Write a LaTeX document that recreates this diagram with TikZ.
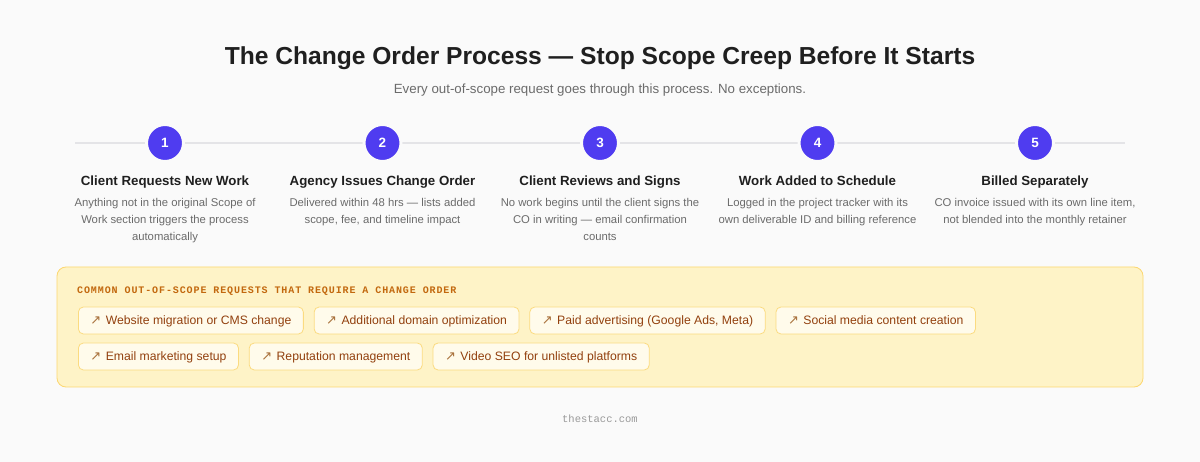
\documentclass[tikz,border=0pt]{standalone}
\usepackage{fontspec}
\setmainfont{Liberation Sans}
\newfontfamily\monofont{Liberation Mono}
\newfontfamily\capsmono[LetterSpace=9]{Liberation Mono}
\newfontfamily\arrowfont{DejaVu Sans}
\usetikzlibrary{positioning}

\definecolor{pagebg}{HTML}{FAFAFA}
\definecolor{titleink}{HTML}{1F1F1F}
\definecolor{subink}{HTML}{6B6B6B}
\definecolor{railgray}{HTML}{E4E4E7}
\definecolor{dotviolet}{HTML}{4F3CF0}
\definecolor{boxfill}{HTML}{FEF3C7}
\definecolor{boxline}{HTML}{FCD770}
\definecolor{headink}{HTML}{C2680E}
\definecolor{chipfill}{HTML}{FFFBEB}
\definecolor{chipline}{HTML}{FBDB80}
\definecolor{chipink}{HTML}{92400E}
\definecolor{chiparrow}{HTML}{A8703A}
\definecolor{footink}{HTML}{9A9A9A}

\newcommand\chiptext[1]{{\color{chiparrow}\arrowfont\fontsize{13}{13}\selectfont ↗}\hspace{4.5pt}#1}

\tikzset{
	stepdot/.style={circle, fill=dotviolet, draw=pagebg, line width=3pt, minimum size=37pt, inner sep=0pt,
		text=white, font=\bfseries\fontsize{13.5}{13.5}\selectfont},
	steptitle/.style={text=titleink, font=\bfseries\fontsize{13.3}{13.3}\selectfont, text height=9.5pt, text depth=2.5pt},
	stepdesc/.style={anchor=north, align=center, text=subink, font=\fontsize{11.3}{17}\selectfont},
	chip/.style={draw=chipline, fill=chipfill, rounded corners=5pt, line width=0.8pt, minimum height=27pt,
		inner xsep=12pt, inner ysep=0pt, text=chipink, font=\fontsize{12.2}{12.2}\selectfont,
		text height=10pt, text depth=2pt},
	timeline/.style={draw=railgray, line width=1.5pt}
}

\begin{document}
\begin{tikzpicture}[x=1pt,y=-1pt]
	%set diagram size to 1200 x 462
	\useasboundingbox[fill=pagebg] (0,0) rectangle (1200,462);

	% Text Node
	\node[text=titleink, font=\bfseries\fontsize{24.6}{24.6}\selectfont] (title) at (600,58) {The Change Order Process — Stop Scope Creep Before It Starts};
	% Text Node
	\node[text=subink, font=\fontsize{13.3}{13.3}\selectfont] (subtitle) at (600,90) {Every out-of-scope request goes through this process. No exceptions.};

	%Straight Lines
	\coordinate (railL) at (75,143);
	\coordinate (railR) at (1125,143);
	\draw[timeline] (railL) -- (railR);

	% Step circles
	\node[stepdot] (dot1) at (165,143) {1};
	\node[stepdot] (dot2) at (382.5,143) {2};
	\node[stepdot] (dot3) at (600,143) {3};
	\node[stepdot] (dot4) at (817.5,143) {4};
	\node[stepdot] (dot5) at (1035,143) {5};

	% Step titles
	\node[steptitle] (title1) at (165,182) {Client Requests New Work};
	\node[steptitle] (title2) at (382.5,182) {Agency Issues Change Order};
	\node[steptitle] (title3) at (600,182) {Client Reviews and Signs};
	\node[steptitle] (title4) at (817.5,182) {Work Added to Schedule};
	\node[steptitle] (title5) at (1035,182) {Billed Separately};

	% Step descriptions
	\node[stepdesc] (desc1) at (165,195) {Anything not in the original Scope of\\Work section triggers the process\\automatically};
	\node[stepdesc] (desc2) at (382.5,195) {Delivered within 48 hrs — lists added\\scope, fee, and timeline impact};
	\node[stepdesc] (desc3) at (600,195) {No work begins until the client signs the\\CO in writing — email confirmation\\counts};
	\node[stepdesc] (desc4) at (817.5,195) {Logged in the project tracker with its\\own deliverable ID and billing reference};
	\node[stepdesc] (desc5) at (1035,195) {CO invoice issued with its own line item,\\not blended into the monthly retainer};

	%Rounded Rect
	\draw[draw=boxline, fill=boxfill, line width=0.8pt, rounded corners=9pt] (57,267) rectangle (1143,387);

	% Text Node
	\node[anchor=west, inner sep=0pt, text=headink, font=\capsmono\bfseries\fontsize{10}{10}\selectfont] (boxhead) at (77,291) {COMMON OUT-OF-SCOPE REQUESTS THAT REQUIRE A CHANGE ORDER};

	% Chips, first row
	\node[chip, anchor=west] (chip1) at (78,320.5) {\chiptext{Website migration or CMS change}};
	\node[chip, right=10pt of chip1] (chip2) {\chiptext{Additional domain optimization}};
	\node[chip, right=10pt of chip2] (chip3) {\chiptext{Paid advertising (Google Ads, Meta)}};
	\node[chip, right=10pt of chip3] (chip4) {\chiptext{Social media content creation}};
	% Chips, second row
	\node[chip, anchor=west] (chip5) at (78,356.5) {\chiptext{Email marketing setup}};
	\node[chip, right=10pt of chip5] (chip6) {\chiptext{Reputation management}};
	\node[chip, right=10pt of chip6] (chip7) {\chiptext{Video SEO for unlisted platforms}};

	% Text Node
	\node[text=footink, font=\monofont\fontsize{10.5}{10.5}\selectfont] (footer) at (600,419) {thestacc.com};

\end{tikzpicture}
\end{document}
